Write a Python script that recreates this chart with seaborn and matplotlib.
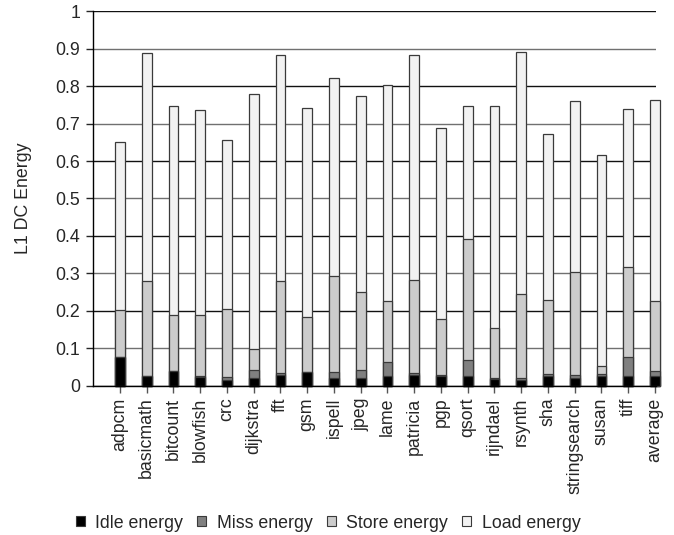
import matplotlib
matplotlib.use("Agg")
import matplotlib.pyplot as plt
from matplotlib.patches import Patch
import seaborn as sns
import pandas as pd
import numpy as np

# --- data ---
benchmarks = ['adpcm', 'basicmath', 'bitcount', 'blowfish', 'crc', 'dijkstra', 'fft',
              'gsm', 'ispell', 'jpeg', 'lame', 'patricia', 'pgp', 'qsort', 'rijndael',
              'rsynth', 'sha', 'stringsearch', 'susan', 'tiff', 'average']
idle_energy = [0.076, 0.026, 0.039, 0.023, 0.015, 0.021, 0.029, 0.038, 0.021, 0.021, 0.026,
               0.029, 0.027, 0.026, 0.017, 0.014, 0.026, 0.021, 0.025, 0.026, 0.026]
miss_energy = [0.000, 0.000, 0.000, 0.003, 0.007, 0.021, 0.004, 0.000, 0.015, 0.020, 0.037,
               0.005, 0.003, 0.043, 0.004, 0.006, 0.006, 0.007, 0.006, 0.052, 0.013]
store_energy = [0.125, 0.255, 0.149, 0.163, 0.182, 0.056, 0.248, 0.146, 0.257, 0.210, 0.162,
                0.249, 0.148, 0.324, 0.133, 0.225, 0.196, 0.275, 0.021, 0.240, 0.188]
load_energy = [0.451, 0.607, 0.560, 0.548, 0.453, 0.680, 0.601, 0.558, 0.529, 0.522, 0.578,
               0.599, 0.511, 0.353, 0.593, 0.645, 0.443, 0.457, 0.565, 0.422, 0.535]

components = ['Idle energy', 'Miss energy', 'Store energy', 'Load energy']
colors = ['#000000', '#808080', '#cccccc', '#f2f2f2']
FS = 12.8

sns.set_style("white")
plt.rcParams['font.family'] = ['Liberation Sans', 'DejaVu Sans']

df = pd.DataFrame({'benchmark': benchmarks, 'Idle energy': idle_energy,
                   'Miss energy': miss_energy, 'Store energy': store_energy,
                   'Load energy': load_energy})
# cumulative sums so each layer can be drawn from the top down
cum = df[components].cumsum(axis=1)

fig, ax = plt.subplots(figsize=(6.74, 5.35), dpi=100)
fig.subplots_adjust(left=0.1375, right=0.973, top=0.979, bottom=0.279)

yticks = np.arange(0, 1.01, 0.1)
grid_cols = ['#111111' if i % 2 == 0 else '#707070' for i in range(len(yticks))]
for yt, gc in zip(yticks, grid_cols):
    ax.axhline(yt, color=gc, lw=1.0, zorder=0)

for comp, col in reversed(list(zip(components, colors))):
    sns.barplot(x=df['benchmark'], y=cum[comp], color=col, width=0.37,
                edgecolor='#3a3a3a', linewidth=0.9, ax=ax, zorder=2)
for p in ax.patches:
    p.set_clip_on(False)

ax.set_ylim(0, 1)
ax.set_xlim(-1.02, 20.03)
ax.set_yticks(yticks)
ax.set_yticklabels(['0', '0.1', '0.2', '0.3', '0.4', '0.5', '0.6', '0.7', '0.8', '0.9', '1'])
ax.set_ylabel('L1 DC Energy', fontsize=FS, labelpad=17)
ax.set_xlabel('')
ax.tick_params(axis='y', labelsize=FS, length=5, width=1, direction='out', left=True, pad=4)
for t, gc in zip(ax.yaxis.get_major_ticks(), grid_cols):
    t.tick1line.set_color(gc)
ax.tick_params(axis='x', labelsize=FS, length=5, width=1, direction='out', color='#555555',
               bottom=True, rotation=90)

for side in ['top', 'right']:
    ax.spines[side].set_visible(False)
for side in ['left', 'bottom']:
    ax.spines[side].set_color('black')
    ax.spines[side].set_linewidth(1.0)

handles = [Patch(facecolor=c, edgecolor='#3a3a3a', linewidth=0.8, label=l)
           for l, c in zip(components, colors)]
fig.legend(handles=handles, loc='center', bbox_to_anchor=(0.487, 0.0224), ncol=4,
           frameon=False, fontsize=FS, handlelength=0.5, handleheight=0.5,
           handletextpad=0.6, columnspacing=0.8)

fig.savefig('out.png', dpi=100)
